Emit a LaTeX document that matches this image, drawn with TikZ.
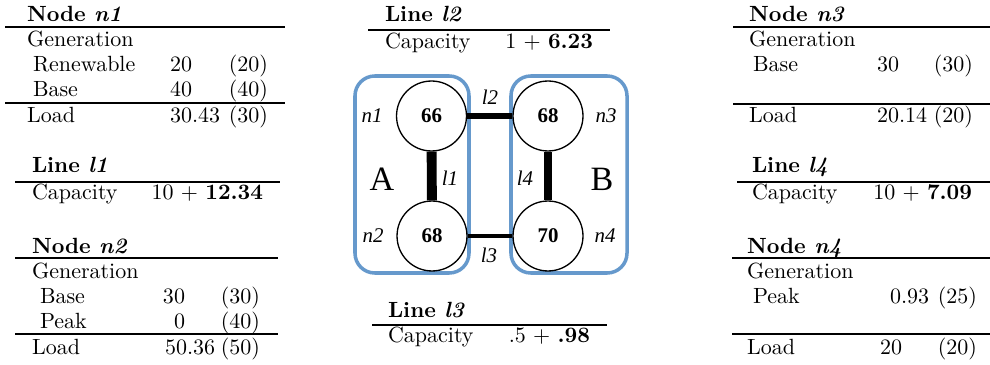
\documentclass[tikz,border=0pt]{standalone}
\usepackage{fontspec}
\newfontfamily\tms{Liberation Serif}
\definecolor{boxblue}{RGB}{102,153,204}
\begin{document}
\begin{tikzpicture}[x=0.4545pt,y=-0.4545pt,
 tx/.style={inner sep=0pt, outer sep=0pt, font=\fontsize{10}{12}\selectfont},
 L/.style={tx, anchor=base west},
 R/.style={tx, anchor=base east},
 toprl/.style={line width=0.8pt},
 midrl/.style={line width=0.5pt},
 bus/.style={circle, draw, line width=0.6pt, minimum size=31.8pt, inner sep=0pt, font=\tms\bfseries\fontsize{9.5}{11}\selectfont},
 area/.style={draw=boxblue, line width=1.6pt, rounded corners=9pt},
 lab/.style={font=\tms\itshape\fontsize{9.5}{11}\selectfont, inner sep=0pt},
 big/.style={font=\tms\fontsize{15.5}{18}\selectfont, inner sep=0pt}]
\useasboundingbox (0,0) rectangle (990,365);

% ---- Node n1
\node[L] (n1t) at (27,22) {\textbf{Node \textit{n1}}};
\draw[toprl] (5,27) -- (285,27);
\node[L] (n1g) at (27,47) {Generation};
\node[L] (n1r) at (33,72) {Renewable};
\node[L] (n1rv) at (170,72) {20};
\node[R] (n1rp) at (268,72) {(20)};
\node[L] (n1b) at (33,97) {Base};
\node[L] (n1bv) at (170,97) {40};
\node[R] (n1bp) at (268,97) {(40)};
\draw[midrl] (5,103) -- (285,103);
\node[L] (n1l) at (27,123) {Load};
\node[L] (n1lv) at (170,123) {30.43};
\node[R] (n1lp) at (268,123) {(30)};

% ---- Line l1
\node[L] (l1t) at (32,173) {\textbf{Line \textit{l1}}};
\draw[midrl] (15,182) -- (280,182);
\node[L] (l1c) at (32,200) {Capacity};
\node[R] (l1v) at (263,200) {10 + \textbf{12.34}};

% ---- Node n2
\node[L] (n2t) at (32,253) {\textbf{Node \textit{n2}}};
\draw[toprl] (15,258) -- (278,258);
\node[L] (n2g) at (32,278) {Generation};
\node[L] (n2b) at (40,303) {Base};
\node[R] (n2bv) at (185,303) {30};
\node[R] (n2bp) at (260,303) {(30)};
\node[L] (n2p) at (40,328) {Peak};
\node[R] (n2pv) at (185,328) {0};
\node[R] (n2pp) at (260,328) {(40)};
\draw[midrl] (15,334) -- (278,334);
\node[L] (n2l) at (32,354) {Load};
\node[L] (n2lv) at (165,354) {50.36};
\node[R] (n2lp) at (260,354) {(50)};

% ---- Line l2
\node[L] (l2t) at (385,22) {\textbf{Line \textit{l2}}};
\draw[midrl] (368,30) -- (610,30);
\node[L] (l2c) at (385,49) {Capacity};
\node[R] (l2v) at (593,49) {1 + \textbf{6.23}};

% ---- Line l3
\node[L] (l3t) at (388,317) {\textbf{Line \textit{l3}}};
\draw[midrl] (372,325) -- (607,325);
\node[L] (l3c) at (388,342) {Capacity};
\node[R] (l3v) at (590,342) {.5 + \textbf{.98}};

% ---- Node n3
\node[L] (n3t) at (749,22) {\textbf{Node \textit{n3}}};
\draw[toprl] (733,27) -- (990,27);
\node[L] (n3g) at (749,47) {Generation};
\node[L] (n3b) at (753,72) {Base};
\node[L] (n3bv) at (877,72) {30};
\node[R] (n3bp) at (973,72) {(30)};
\draw[midrl] (733,104) -- (990,104);
\node[L] (n3l) at (749,123) {Load};
\node[L] (n3lv) at (877,123) {20.14};
\node[R] (n3lp) at (973,123) {(20)};

% ---- Line l4
\node[L] (l4t) at (752,173) {\textbf{Line \textit{l4}}};
\draw[midrl] (737,182) -- (990,182);
\node[L] (l4c) at (752,200) {Capacity};
\node[R] (l4v) at (972,200) {10 + \textbf{7.09}};

% ---- Node n4
\node[L] (n4t) at (747,253) {\textbf{Node \textit{n4}}};
\draw[toprl] (732,258) -- (990,258);
\node[L] (n4g) at (747,278) {Generation};
\node[L] (n4p) at (753,303) {Peak};
\node[L] (n4pv) at (890,303) {0.93};
\node[R] (n4pp) at (977,303) {(25)};
\draw[midrl] (732,334) -- (990,334);
\node[L] (n4l) at (747,354) {Load};
\node[L] (n4lv) at (880,354) {20};
\node[R] (n4lp) at (977,354) {(20)};

% ---- Network diagram
\draw[area] (355,76) rectangle (469,273);
\draw[area] (511,76) rectangle (627,273);
\node[bus] (b1) at (431.5,116) {66};
\node[bus] (b2) at (432,236) {68};
\node[bus] (b3) at (548,116) {68};
\node[bus] (b4) at (548,236) {70};
\draw[line width=4.5pt] (b1) -- (b2);
\draw[line width=2.3pt] (b1) -- (b3);
\draw[line width=1.4pt] (b2) -- (b4);
\draw[line width=3.6pt] (b3) -- (b4);
\node[lab] (ln1) at (372,116) {n1};
\node[lab] (ln2) at (373,236) {n2};
\node[lab] (ln3) at (606,116) {n3};
\node[lab] (ln4) at (605,236) {n4};
\node[lab] (ll2) at (490,97) {l2};
\node[lab] (ll1) at (450,178) {l1};
\node[lab] (ll4) at (525,178) {l4};
\node[lab] (ll3) at (489,255) {l3};
\node[big] (aA) at (382,179) {A};
\node[big] (aB) at (602,179) {B};
\end{tikzpicture}
\end{document}
